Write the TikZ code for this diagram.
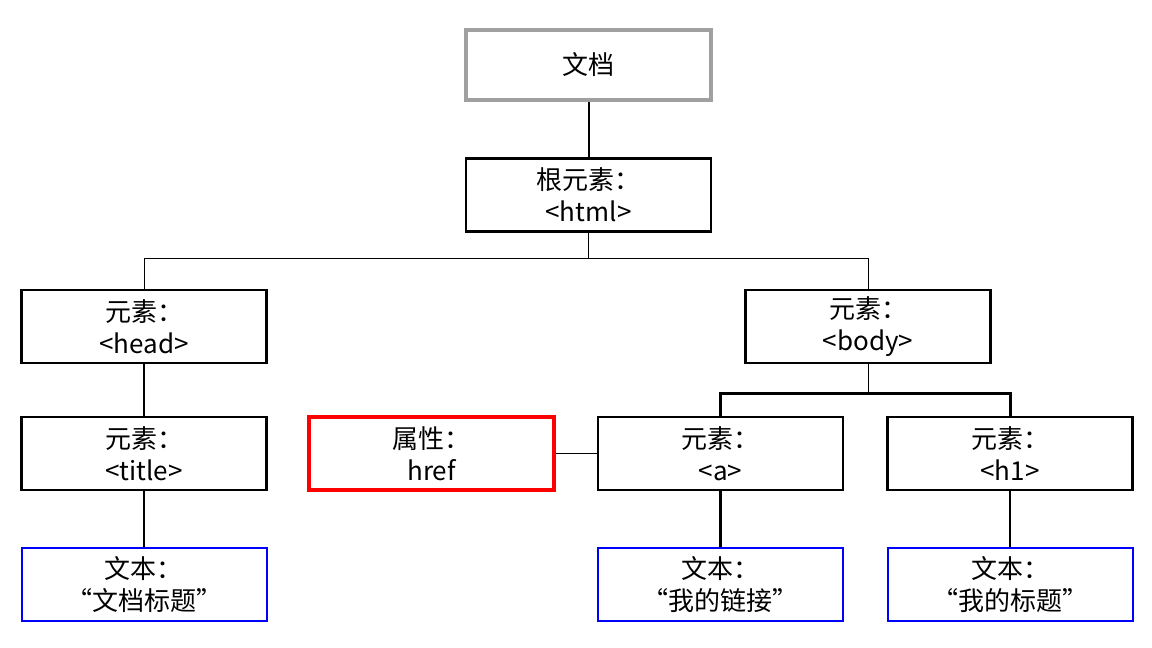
\documentclass[tikz,border=0pt]{standalone}
\usepackage{fontspec}
\setmainfont{Noto Sans CJK SC}
\begin{document}
\begin{tikzpicture}[x=1pt,y=-1pt,
  box/.style={draw=black,line width=2.5pt,minimum width=245pt,minimum height=73pt,
    align=center,inner sep=0pt,font=\fontsize{26}{32}\selectfont},
  docbox/.style={box,draw={rgb,255:red,160;green,160;blue,160},line width=4pt,minimum height=70pt},
  attrbox/.style={box,draw=red,line width=3.5pt},
  textbox/.style={box,draw=blue,line width=2pt},
  link/.style={line width=2pt},
  thin link/.style={line width=1pt},
  thick link/.style={line width=3pt}]
  \fill[white] (0,0) rectangle (1152,648);
  \useasboundingbox (0,0) rectangle (1152,648);

  \node[docbox] (doc) at (588.5,65) {文档};
  \node[box] (html) at (588.5,195) {根元素：\\<html>};
  \node[box] (head) at (144,326.5) {元素：\\<head>};
  \node[box] (body) at (868,326.5) {元素：\\<body>};
  \node[box] (title) at (144,453.5) {元素：\\<title>};
  \node[attrbox] (href) at (431.5,453.5) {属性：\\href};
  \node[box] (a) at (720.5,453.5) {元素：\\<a>};
  \node[box] (h1) at (1010,453.5) {元素：\\<h1>};
  \node[textbox] (t1) at (144,584.5) {文本：\\“文档标题”};
  \node[textbox] (t2) at (720.5,584.5) {文本：\\“我的链接”};
  \node[textbox] (t3) at (1010,584.5) {文本：\\“我的标题”};

  \draw[link] (doc.south) -- (html.north);
  \coordinate (bus1) at (588.5,258);
  \draw[thin link] (html.south) -- (bus1) -| (head.north);
  \draw[thin link] (bus1) -| (body.north);
  \draw[link] (head.south) -- (title.north);
  \draw[link] (title.south) -- (t1.north);
  \coordinate (bus2) at (868,393);
  \draw[thin link] (body.south) -- (bus2);
  \draw[thick link] (a.north) |- (bus2) -| (h1.north);
  \draw[thin link] (href.east) -- (a.west);
  \draw[thick link] (a.south) -- (t2.north);
  \draw[link] (h1.south) -- (t3.north);
\end{tikzpicture}
\end{document}
